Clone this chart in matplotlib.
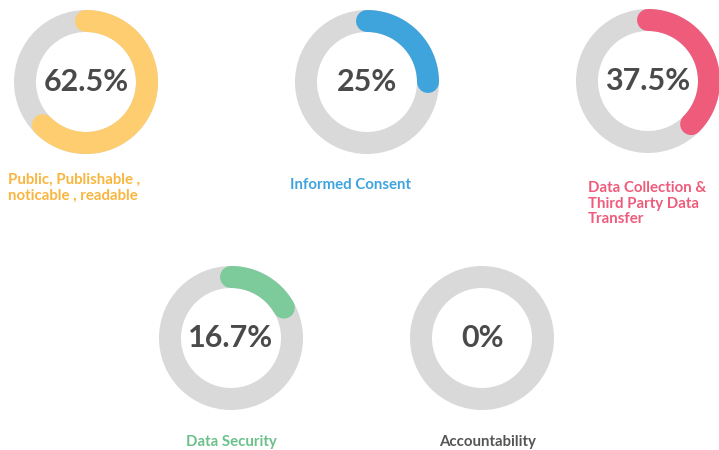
import numpy as np
import matplotlib
matplotlib.use("Agg")
import matplotlib.pyplot as plt
from matplotlib.patches import Wedge

# data
labels = ["Public, Publishable ,\nnoticable , readable", "Informed Consent",
          "Data Collection &\nThird Party Data\nTransfer", "Data Security", "Accountability"]
values = [62.5, 25, 37.5, 16.7, 0]
value_text = ["62.5%", "25%", "37.5%", "16.7%", "0%"]
colors = ["#fecd6f", "#3fa4dc", "#ee5b7b", "#7dca9b", "#d9d9d9"]
label_colors = ["#f8b63f", "#3fa4dc", "#ee5b7b", "#6cc08c", "#555555"]

# layout (pixel space)
centers = [(86, 82), (367, 82), (648, 81), (231, 338), (482, 338)]
label_pos = [(8, 173), (351, 178), (588, 181), (231, 435), (488, 435)]
label_ha = ["left", "center", "left", "center", "center"]
R_OUT, R_IN = 72, 50

plt.rcParams['font.family'] = ['Lato', 'DejaVu Sans']
fig = plt.figure(figsize=(7.19, 4.5), dpi=100)
ax = fig.add_axes([0, 0, 1, 1])
ax.set_xlim(0, 719)
ax.set_ylim(450, 0)
ax.set_aspect('equal')
ax.axis('off')

px2pt = 72 / fig.dpi
r_mid = (R_OUT + R_IN) / 2
for (cx, cy), v, vt, c, lab, lp, ha, lc in zip(centers, values, value_text, colors,
                                               labels, label_pos, label_ha, label_colors):
    ax.add_patch(Wedge((cx, cy), R_OUT, 0, 360, width=R_OUT - R_IN,
                       facecolor="#d9d9d9", edgecolor="none"))
    if v > 0:
        # clockwise from 12 o'clock (y axis inverted)
        ang = np.linspace(-np.pi / 2, -np.pi / 2 + 2 * np.pi * v / 100, 200)
        ax.plot(cx + r_mid * np.cos(ang), cy + r_mid * np.sin(ang), color=c,
                lw=(R_OUT - R_IN) * px2pt, solid_capstyle='round')
    ax.text(cx, cy, vt, ha='center', va='center', fontsize=22, fontweight='bold',
            color="#4a4a4a")
    ax.text(lp[0], lp[1], lab, ha=ha, va='top', fontsize=10.8, fontweight='bold',
            color=lc, linespacing=1.15)

fig.savefig("out.png", dpi=100, facecolor='white')
